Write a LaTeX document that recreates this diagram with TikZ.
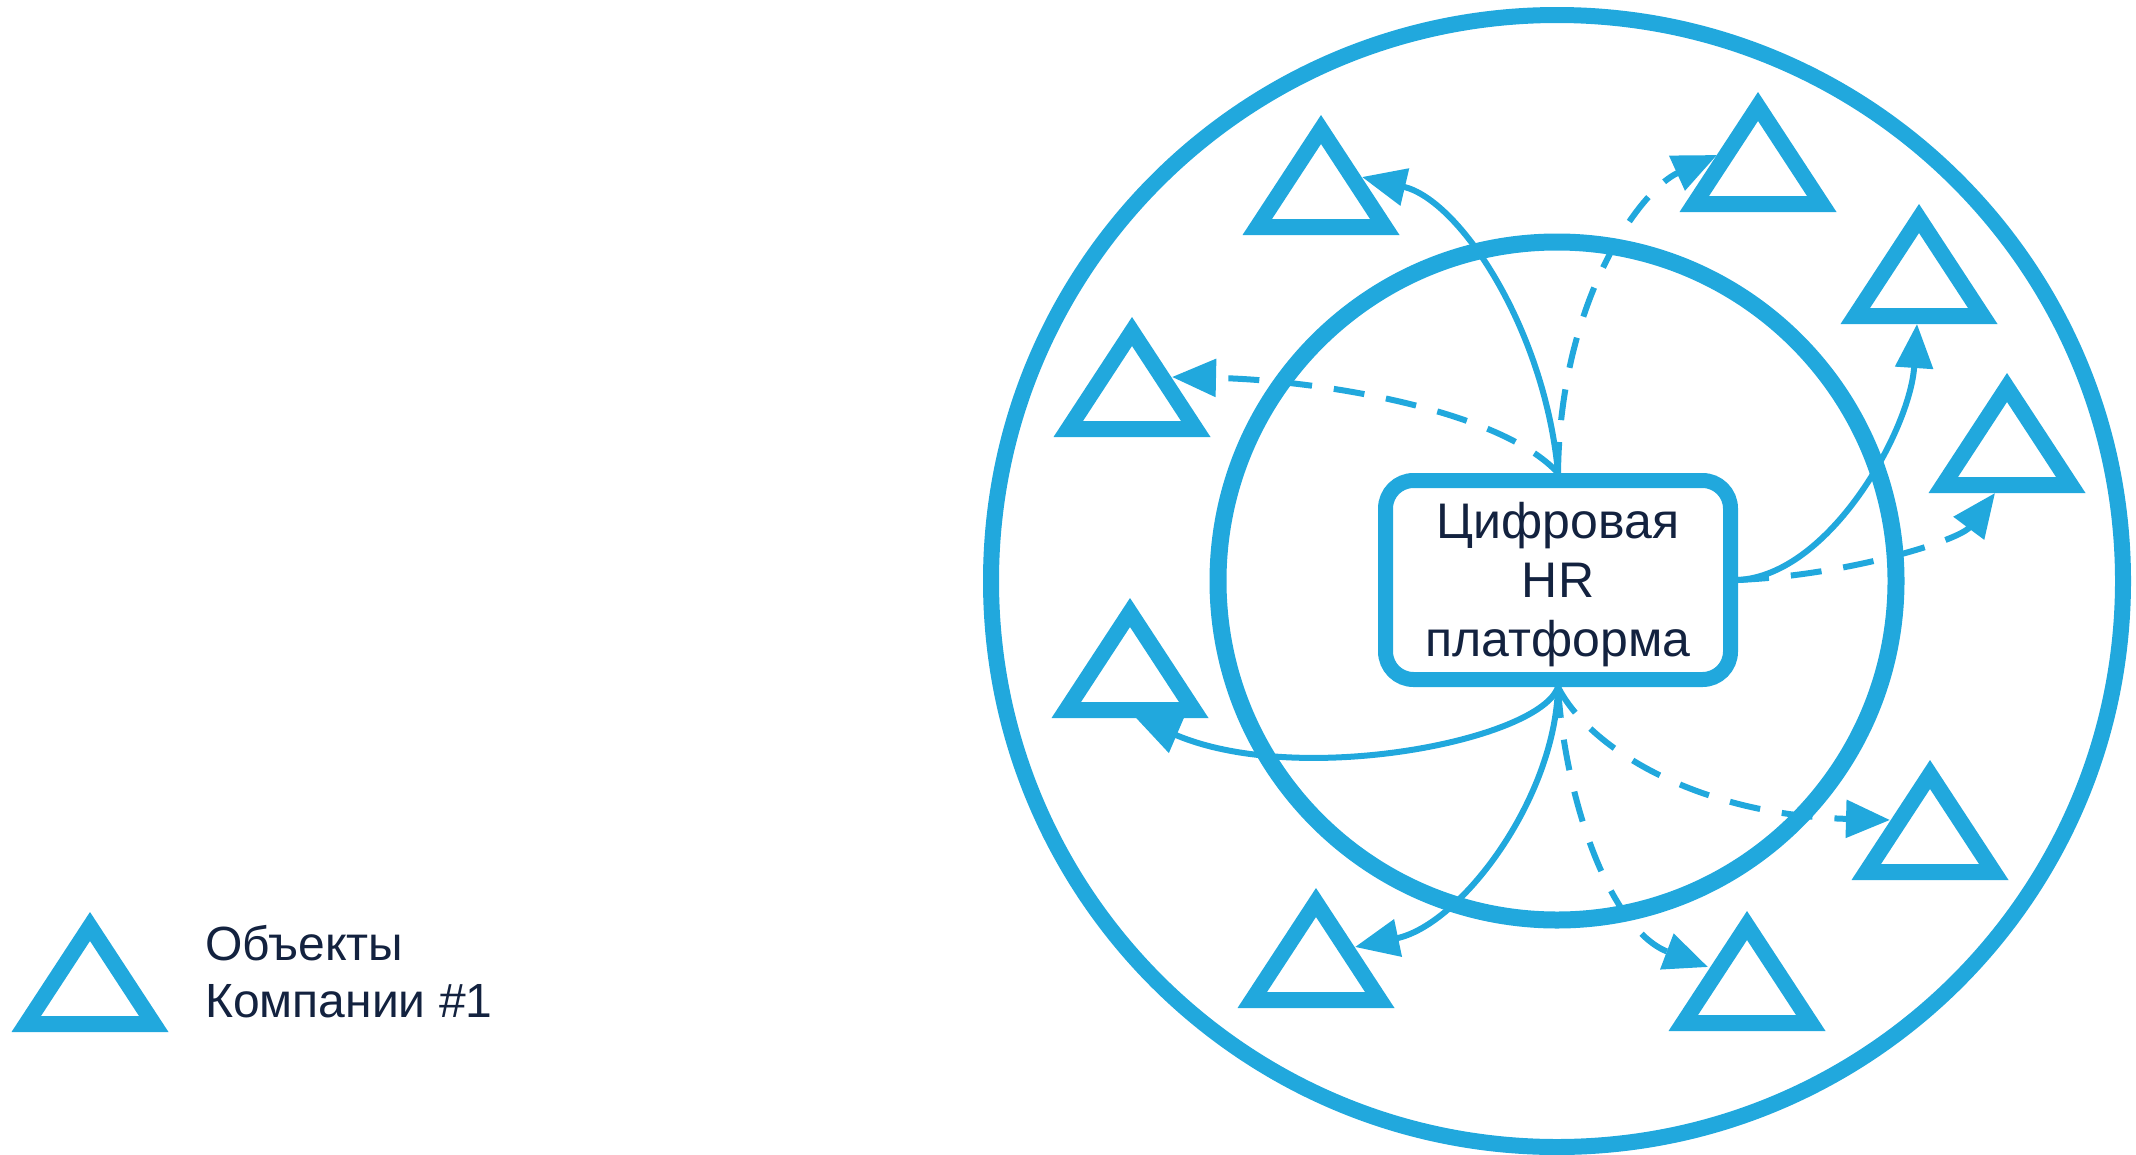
\documentclass[tikz,border=0pt]{standalone}
\usepackage{fontspec}
\setmainfont{Liberation Sans}
\usetikzlibrary{arrows.meta}
\definecolor{hrblue}{HTML}{21A8DD}
\definecolor{hrnavy}{HTML}{13223F}
\begin{document}
\begin{tikzpicture}[x=1pt,y=-1pt,
  tri/.pic={\fill[hrblue,even odd rule] (0,0) -- (-78.5,120) -- (78.5,120) -- cycle (0,29) -- (-49,104) -- (49,104) -- cycle;},
  link/.style={draw=hrblue,line width=6pt,-{Triangle[length=44pt,width=37pt]}},
  dlink/.style={link,dash pattern=on 31pt off 22pt},
  platform/.style={draw=hrblue,line width=15pt,rounded corners=28pt,minimum width=345pt,minimum height=199pt,align=center,text=hrnavy,font=\fontsize{50}{59}\selectfont},
  legendtext/.style={align=left,text=hrnavy,font=\fontsize{48}{57}\selectfont,inner sep=0pt}
]
\useasboundingbox (0,0) rectangle (2136,1154);
% rings
\draw[hrblue,line width=16pt] (1557,581) circle[radius=566pt];
\draw[hrblue,line width=17pt] (1557,581) circle[radius=339pt];
% objects (triangles)
\pic at (1321,115) {tri};
\pic at (1758,92) {tri};
\pic at (1919,204) {tri};
\pic at (2007,373) {tri};
\pic at (1132,317) {tri};
\pic at (1130,598) {tri};
\pic at (1316,888) {tri};
\pic at (1747,911) {tri};
\pic at (1930,760) {tri};
% arrow targets on the triangles
\coordinate (tA) at (1362,177);
\coordinate (tB) at (1717,155);
\coordinate (tC) at (1172,377);
\coordinate (tD) at (1917,324);
\coordinate (tE) at (1995,493);
\coordinate (tF) at (1136,718);
\coordinate (tG) at (1355,947);
\coordinate (tH) at (1708,967);
\coordinate (tI) at (1890,820);
% platform
\node[platform] (box) at (1558,580) {};
\node[align=center,text=hrnavy,font=\fontsize{50}{59}\selectfont] (boxtext) at (1558,585) {Цифровая\\HR\\платформа};
% connectors
\draw[link]  (box.north) .. controls (1545,330) and (1460,200) .. (tA);
\draw[dlink] (box.north) .. controls (1560,300) and (1640,190) .. (tB);
\draw[dlink] (box.north) .. controls (1500,410) and (1320,380) .. (tC);
\draw[link]  (box.east) .. controls (1830,575) and (1910,430) .. (tD);
\draw[dlink] (box.east) .. controls (1850,575) and (1960,540) .. (tE);
\draw[link]  (box.south) .. controls (1540,740) and (1300,788) .. (tF);
\draw[link]  (box.south) .. controls (1555,800) and (1460,925) .. (tG);
\draw[dlink] (box.south) .. controls (1565,800) and (1610,930) .. (tH);
\draw[dlink] (box.south) .. controls (1590,750) and (1700,815) .. (tI);
% legend
\pic at (90,912) {tri};
\node[legendtext,anchor=west] (legend) at (205,972) {Объекты\\Компании \#1};
\end{tikzpicture}
\end{document}
